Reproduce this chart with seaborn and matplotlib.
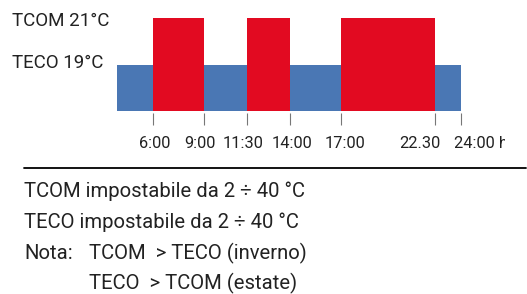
import matplotlib
matplotlib.use("Agg")
import matplotlib.pyplot as plt
import matplotlib.transforms as mtransforms
from matplotlib.lines import Line2D
import seaborn as sns
import pandas as pd

# schedule (hours); the first period is drawn shortened in the original sketch
period_start = [3.9, 6, 9, 11.5, 14, 17, 22.5]
period_end = [6, 9, 11.5, 14, 17, 22.5, 24]
period_mode = ["TECO", "TCOM", "TECO", "TCOM", "TECO", "TCOM", "TECO"]

mode_names = ["TCOM", "TECO"]
mode_temps = [21, 19]
mode_labels = ["TCOM 21°C", "TECO 19°C"]

tick_hours = [6, 9, 11.5, 14, 17, 22.5, 24]
tick_labels = ["6:00", "9:00", "11:30", "14:00", "17:00", "22.30", "24:00 h"]

note_lines = [
    "TCOM impostabile da 2 ÷ 40 °C",
    "TECO impostabile da 2 ÷ 40 °C",
]
note_head = "Nota:"
note_cases = ["TCOM  > TECO (inverno)", "TECO  > TCOM (estate)"]

RED = "#e20a21"
BLUE = "#4a77b4"
TXT = "#222222"

sns.set_theme(style="white")
plt.rcParams["font.family"] = ["Roboto", "DejaVu Sans"]

temp_of = dict(zip(mode_names, mode_temps))
df = pd.DataFrame({"start": period_start, "end": period_end, "mode": period_mode})
df["mid"] = (df["start"] + df["end"]) / 2
df["temp"] = df["mode"].map(temp_of)
edges = sorted(set(period_start) | set(period_end))

W, H = 527, 294
fig = plt.figure(figsize=(5.27, 2.94), dpi=100)
ax = fig.add_axes([117 / W, 1 - 111 / H, (461 - 117) / W, 93 / H])


def shift(artist, dx=0, dy=0):
    # nudge a text by a few pixels
    artist.set_transform(artist.get_transform() +
                         mtransforms.ScaledTranslation(dx / 100, dy / 100, fig.dpi_scale_trans))


sns.histplot(data=df, x="mid", weights="temp", hue="mode", bins=edges,
             palette={"TCOM": RED, "TECO": BLUE}, alpha=1, linewidth=0,
             multiple="layer", legend=False, ax=ax)

ax.set_xlim(period_start[0], period_end[-1])
ax.set_ylim(17, 21)
ax.set_xlabel("")
ax.set_ylabel("")
for s in ["top", "right", "left", "bottom"]:
    ax.spines[s].set_visible(False)
ax.spines["bottom"].set_position(("outward", 1.5))

# y labels: setpoint names, left aligned at the figure edge
ax.set_yticks(mode_temps, mode_labels)
ax.tick_params(axis="y", length=0, pad=75.6, labelsize=13.5, labelcolor=TXT)
for lab, dy in zip(ax.get_yticklabels(), [-3, 1]):
    lab.set_ha("left")
    lab.set_va("center")
    shift(lab, dy=dy)

# x ticks: switching times
ax.set_xticks(tick_hours, tick_labels)
ax.tick_params(axis="x", bottom=True, length=8.6, width=0.8, color="#777777",
               pad=8, labelsize=11.8, labelcolor=TXT)
xlabs = ax.get_xticklabels()
xlabs[5].set_ha("right")
xlabs[6].set_ha("left")
for lab, dx in zip(xlabs, [2, -4, -4, 2, 4, 5, -7]):
    shift(lab, dx=dx)
# the unit is cut off in the original
clip = mtransforms.Bbox.from_extents(0, 0, 505, H)
xlabs[6].set_clip_box(mtransforms.TransformedBbox(clip, mtransforms.IdentityTransform()))
xlabs[6].set_clip_on(True)

# separator line
fig.add_artist(Line2D([24 / W, 526 / W], [1 - 168 / H] * 2, color="black", lw=1.3))

# notes
base = [197, 228, 259, 289]
kw = dict(fontsize=14.6, color=TXT, va="baseline")
fig.text(24 / W, 1 - base[0] / H, note_lines[0], **kw)
fig.text(24 / W, 1 - base[1] / H, note_lines[1], **kw)
fig.text(24 / W, 1 - base[2] / H, note_head, **kw)
fig.text(89 / W, 1 - base[2] / H, note_cases[0], **kw)
fig.text(89 / W, 1 - base[3] / H, note_cases[1], **kw)

fig.savefig("out.png", dpi=100)
